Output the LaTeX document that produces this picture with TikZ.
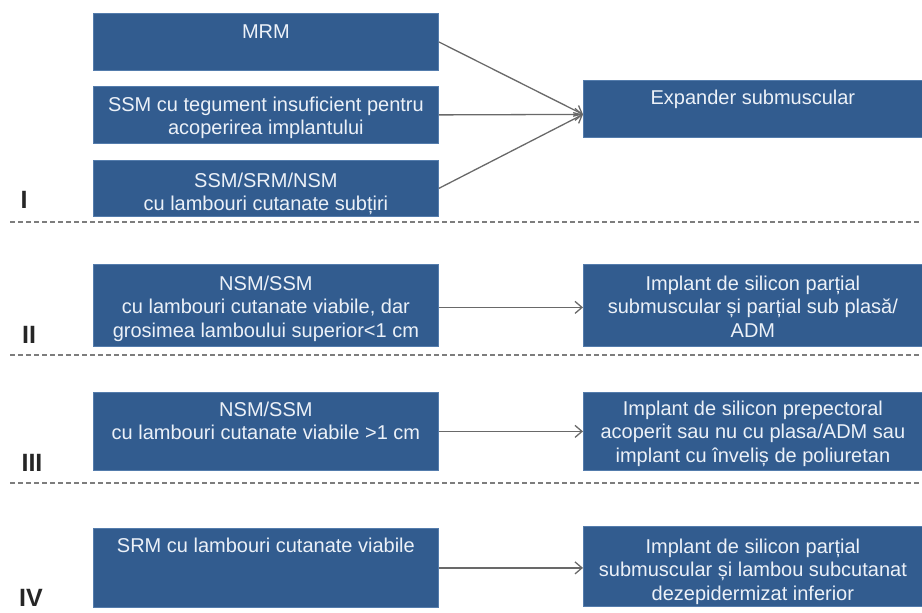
\documentclass[tikz,border=0pt]{standalone}
\usepackage{fontspec}
\setmainfont{Liberation Sans}
\usetikzlibrary{arrows.meta}
\definecolor{boxblue}{RGB}{50,92,143}
\definecolor{boxedge}{RGB}{84,124,172}
\definecolor{arrgray}{RGB}{105,105,105}
\definecolor{dashgray}{RGB}{125,125,125}
\definecolor{txtwhite}{RGB}{236,241,248}
\begin{document}
\begin{tikzpicture}[x=1pt,y=-1pt,
 bluebox/.style={draw=boxedge, line width=0.8pt, fill=boxblue, inner sep=0pt, anchor=north west},
 boxtext/.style={anchor=north, inner sep=0pt, align=center, text=txtwhite, font=\fontsize{20}{23.5}\selectfont},
 conn/.style={draw=arrgray, line width=1.3pt, -{Straight Barb[length=7pt,width=12pt]}},
 sepline/.style={draw=dashgray, line width=1.1pt, dash pattern=on 5pt off 3pt},
 roman/.style={font=\fontsize{25}{25}\selectfont\bfseries, anchor=center, inner sep=0pt, text=black!85}]
\useasboundingbox (0,0) rectangle (922,613);

% ---------- Section I
\node[bluebox, minimum width=345pt, minimum height=57pt] (mrm) at (93,13) {};
\node[bluebox, minimum width=345pt, minimum height=57pt] (ssm) at (93,86) {};
\node[bluebox, minimum width=345pt, minimum height=56pt] (thin) at (93,160) {};
\node[bluebox, minimum width=339pt, minimum height=57pt] (exp) at (583,80) {};

\node[boxtext] (mrmt) at ([yshift=-9pt]mrm.north) {\rule{0pt}{16pt}MRM};
\node[boxtext] (ssmt) at ([yshift=-9pt]ssm.north) {\rule{0pt}{16pt}SSM cu tegument insuficient pentru\\acoperirea implantului};
\node[boxtext] (thint) at ([yshift=-11pt]thin.north) {\rule{0pt}{16pt}SSM/SRM/NSM\\cu lambouri cutanate subțiri};
\node[boxtext] (expt) at ([yshift=-8pt]exp.north) {\rule{0pt}{16pt}Expander submuscular};

\coordinate (cv) at ([yshift=-5.5pt]exp.west);
\draw[conn] (mrm.east) -- (cv);
\draw[conn] (ssm.east) -- (cv);
\draw[conn] (thin.east) -- (cv);

\node[roman] (lI) at (24,200) {I};
\draw[sepline] (10,222) -- (922,222);

% ---------- Section II
\node[bluebox, minimum width=345pt, minimum height=82pt] (l2) at (93,264) {};
\node[bluebox, minimum width=339pt, minimum height=82pt] (r2) at (583,264) {};
\node[boxtext] (l2t) at ([yshift=-10pt]l2.north) {\rule{0pt}{16pt}NSM/SSM\\cu lambouri cutanate viabile, dar\\grosimea lamboului superior<1 cm};
\node[boxtext] (r2t) at ([yshift=-10pt]r2.north) {\rule{0pt}{16pt}Implant de silicon parțial\\submuscular și parțial sub plasă/\\ADM};
\draw[conn] ([yshift=-2pt]l2.east) -- ([yshift=-2pt]r2.west);

\node[roman] (lII) at (29,335) {II};
\draw[sepline] (10,355) -- (922,355);

% ---------- Section III
\node[bluebox, minimum width=345pt, minimum height=78pt] (l3) at (93,392) {};
\node[bluebox, minimum width=339pt, minimum height=78pt] (r3) at (583,392) {};
\node[boxtext] (l3t) at ([yshift=-8pt]l3.north) {\rule{0pt}{16pt}NSM/SSM\\cu lambouri cutanate viabile >1 cm};
\node[boxtext] (r3t) at ([yshift=-7pt]r3.north) {\rule{0pt}{16pt}Implant de silicon prepectoral\\acoperit sau nu cu plasa/ADM sau\\implant cu înveliș de poliuretan};
\draw[conn] (l3.east) -- (r3.west);

\node[roman] (lIII) at (32,463) {III};
\draw[sepline] (10,483) -- (922,483);

% ---------- Section IV
\node[bluebox, minimum width=345pt, minimum height=79pt] (l4) at (93,528) {};
\node[bluebox, minimum width=339pt, minimum height=80pt] (r4) at (583,526) {};
\node[boxtext] (l4t) at ([yshift=-8pt]l4.north) {\rule{0pt}{16pt}SRM cu lambouri cutanate viabile};
\node[boxtext] (r4t) at ([yshift=-11pt]r4.north) {\rule{0pt}{16pt}Implant de silicon parțial\\submuscular și lambou subcutanat\\dezepidermizat inferior};
\draw[conn] (l4.east) -- (l4.east -| r4.west);

\node[roman] (lIV) at (31,598) {IV};
\end{tikzpicture}
\end{document}
